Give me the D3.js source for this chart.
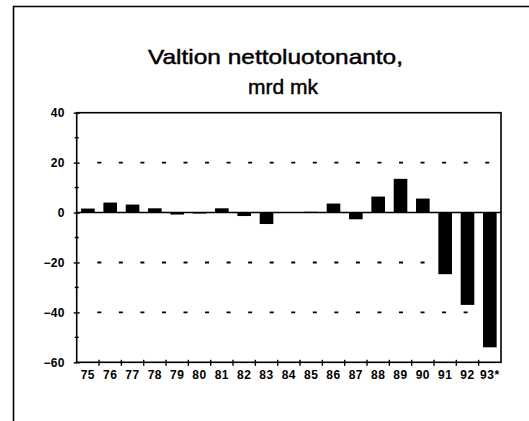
<!DOCTYPE html>
<html><head><meta charset="utf-8">
<script src="https://cdn.jsdelivr.net/npm/d3@7"></script>
<style>
html,body{margin:0;padding:0;background:#fff;}
svg{display:block;}
text{font-family:"Liberation Sans",Arial,sans-serif;fill:#000;}
</style></head>
<body>
<svg id="chart" width="529" height="421"></svg>
<script>
const titleLines = ["Valtion nettoluotonanto,", "mrd mk"];
const years = ["75","76","77","78","79","80","81","82","83","84","85","86","87","88","89","90","91","92","93*"];
const values = [1.6,4.0,3.2,1.7,-0.8,-0.4,1.7,-1.4,-4.6,0.2,0.3,3.6,-2.7,6.4,13.5,5.6,-24.7,-37.0,-54.0];
const yMajorTicks = [40,20,0,-20,-40,-60];
const yMinorTicks = [30,10,-10,-30,-50];
const gridValues = [20,-20,-40];

const svg = d3.select("#chart");
const pLeft = 76.7, pRight = 501, pTop = 112.7, pBottom = 362.3;

// outer frame (left and top edges of the scanned box)
svg.append("path").attr("d", "M13.5,421 L13.5,6.5 L529,6.5")
  .attr("fill","none").attr("stroke","#000").attr("stroke-width",1.6);

const x = d3.scaleBand().domain(years).range([pLeft,pRight]).paddingInner(0.39).paddingOuter(0.195);
const xb = d3.scaleBand().domain(years).range([pLeft,pRight]);
const y = d3.scaleLinear().domain([-60,40]).range([pBottom,pTop]);

// title
const t = svg.append("g").attr("stroke","#000").attr("stroke-width",0.45);
t.append("text").attr("x",275.5).attr("y",64).attr("text-anchor","middle")
  .attr("font-size",21).attr("textLength",255).attr("lengthAdjust","spacingAndGlyphs")
  .text(titleLines[0]);
t.append("text").attr("x",283).attr("y",94.3).attr("text-anchor","middle")
  .attr("font-size",21).text(titleLines[1]);

// gridlines
svg.append("g").selectAll("line").data(gridValues).join("line")
  .attr("x1",97.3).attr("x2",490).attr("y1",d=>y(d)).attr("y2",d=>y(d))
  .attr("stroke","#000").attr("stroke-width",1.9).attr("stroke-dasharray","4 17.55");

// bars
svg.append("g").selectAll("rect").data(values).join("rect")
  .attr("x",(d,i)=>x(years[i]))
  .attr("width",x.bandwidth())
  .attr("y",d=>y(Math.max(0,d)))
  .attr("height",d=>Math.abs(y(d)-y(0)))
  .attr("fill","#000");

// plot frame
svg.append("rect").attr("x",pLeft).attr("y",pTop).attr("width",pRight-pLeft).attr("height",pBottom-pTop)
  .attr("fill","none").attr("stroke","#000").attr("stroke-width",1.6);

// zero line
svg.append("line").attr("x1",pLeft).attr("x2",pRight).attr("y1",y(0)).attr("y2",y(0))
  .attr("stroke","#000").attr("stroke-width",1.6);

// y axis
const yAxis = d3.axisLeft(y).tickValues(yMajorTicks).tickSize(3).tickPadding(9).tickFormat(d3.format("d"));
const ga = svg.append("g").attr("transform",`translate(${pLeft},0)`).call(yAxis);
ga.select(".domain").remove();
ga.selectAll(".tick line").attr("x1",3).attr("x2",-3).attr("stroke-width",1.4);
ga.selectAll("text").attr("font-size",12).attr("font-weight","bold").attr("letter-spacing",0.3)
  .style("font-family","'Liberation Sans',Arial,sans-serif");
svg.append("g").selectAll("line").data(yMinorTicks).join("line")
  .attr("x1",pLeft-2).attr("x2",pLeft+2).attr("y1",d=>y(d)).attr("y2",d=>y(d))
  .attr("stroke","#000").attr("stroke-width",1.4);

// x axis
const xAxis = d3.axisBottom(xb).tickSize(0).tickPadding(8);
const gx = svg.append("g").attr("transform",`translate(0,${pBottom})`).call(xAxis);
gx.select(".domain").remove();
gx.selectAll("text").attr("font-size",12).attr("font-weight","bold").attr("letter-spacing",0.5)
  .style("font-family","'Liberation Sans',Arial,sans-serif");
svg.append("g").selectAll("line").data(years.slice(1)).join("line")
  .attr("x1",d=>xb(d)).attr("x2",d=>xb(d)).attr("y1",pBottom-2.5).attr("y2",pBottom+3.5)
  .attr("stroke","#000").attr("stroke-width",1.4);
</script>
</body></html>
